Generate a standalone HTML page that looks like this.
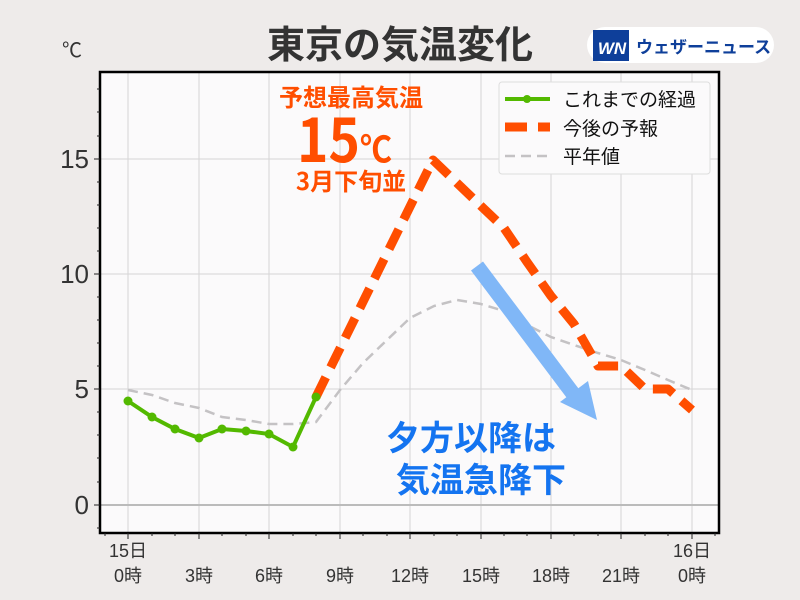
<!DOCTYPE html>
<html><head><meta charset="utf-8"><style>
html,body{margin:0;padding:0;background:#eeebea;}
svg{display:block;font-family:"Liberation Sans","Noto Sans CJK JP",sans-serif;}
</style></head><body>
<svg width="800" height="600" viewBox="0 0 800 600" xmlns="http://www.w3.org/2000/svg">
<rect width="800" height="600" fill="#eeebea"/>
<text x="400" y="58" text-anchor="middle" font-size="38" font-weight="bold" fill="#333" font-family="Noto Sans CJK JP,sans-serif">東京の気温変化</text>
<text x="62" y="57" font-size="20" fill="#333">℃</text>
<rect x="587" y="27" width="187" height="36" rx="18" fill="#fff"/>
<rect x="593" y="30" width="36" height="31" fill="#0e3f9a" transform="skew(-6)"/>
<text x="612" y="54" text-anchor="middle" font-size="17" font-weight="bold" font-style="italic" fill="#fff">WN</text>
<text x="636" y="53" font-size="17" font-weight="bold" fill="#0e3f9a" font-family="Noto Sans CJK JP,sans-serif">ウェザーニュース</text>
<rect x="100" y="72" width="619" height="461" fill="#fbfafb"/>
<g stroke="#d6d4d6" stroke-width="1">
<line x1="128" y1="72" x2="128" y2="533"/><line x1="199" y1="72" x2="199" y2="533"/><line x1="269" y1="72" x2="269" y2="533"/><line x1="340" y1="72" x2="340" y2="533"/><line x1="410" y1="72" x2="410" y2="533"/><line x1="481" y1="72" x2="481" y2="533"/><line x1="551" y1="72" x2="551" y2="533"/><line x1="621" y1="72" x2="621" y2="533"/><line x1="692" y1="72" x2="692" y2="533"/>
<line x1="100" y1="159" x2="719" y2="159"/><line x1="100" y1="274" x2="719" y2="274"/><line x1="100" y1="389" x2="719" y2="389"/>
</g>
<line x1="100" y1="505" x2="719" y2="505" stroke="#bbb" stroke-width="2"/>
<rect x="100" y="72" width="619" height="461" fill="none" stroke="#000" stroke-width="2.5"/>
<g stroke="#222" stroke-width="1">
<line x1="94" y1="159" x2="100" y2="159"/><line x1="94" y1="274" x2="100" y2="274"/><line x1="94" y1="389" x2="100" y2="389"/><line x1="94" y1="505" x2="100" y2="505"/>
<line x1="97" y1="89" x2="100" y2="89"/><line x1="97" y1="112" x2="100" y2="112"/><line x1="97" y1="136" x2="100" y2="136"/><line x1="97" y1="182" x2="100" y2="182"/><line x1="97" y1="205" x2="100" y2="205"/><line x1="97" y1="228" x2="100" y2="228"/><line x1="97" y1="251" x2="100" y2="251"/><line x1="97" y1="297" x2="100" y2="297"/><line x1="97" y1="320" x2="100" y2="320"/><line x1="97" y1="343" x2="100" y2="343"/><line x1="97" y1="366" x2="100" y2="366"/><line x1="97" y1="412" x2="100" y2="412"/><line x1="97" y1="435" x2="100" y2="435"/><line x1="97" y1="458" x2="100" y2="458"/><line x1="97" y1="482" x2="100" y2="482"/><line x1="97" y1="528" x2="100" y2="528"/>
<line x1="128" y1="533" x2="128" y2="539"/><line x1="199" y1="533" x2="199" y2="539"/><line x1="269" y1="533" x2="269" y2="539"/><line x1="340" y1="533" x2="340" y2="539"/><line x1="410" y1="533" x2="410" y2="539"/><line x1="481" y1="533" x2="481" y2="539"/><line x1="551" y1="533" x2="551" y2="539"/><line x1="621" y1="533" x2="621" y2="539"/><line x1="692" y1="533" x2="692" y2="539"/>
<line x1="105" y1="533" x2="105" y2="536"/><line x1="152" y1="533" x2="152" y2="536"/><line x1="175" y1="533" x2="175" y2="536"/><line x1="222" y1="533" x2="222" y2="536"/><line x1="246" y1="533" x2="246" y2="536"/><line x1="293" y1="533" x2="293" y2="536"/><line x1="316" y1="533" x2="316" y2="536"/><line x1="363" y1="533" x2="363" y2="536"/><line x1="387" y1="533" x2="387" y2="536"/><line x1="434" y1="533" x2="434" y2="536"/><line x1="457" y1="533" x2="457" y2="536"/><line x1="504" y1="533" x2="504" y2="536"/><line x1="527" y1="533" x2="527" y2="536"/><line x1="574" y1="533" x2="574" y2="536"/><line x1="598" y1="533" x2="598" y2="536"/><line x1="645" y1="533" x2="645" y2="536"/><line x1="668" y1="533" x2="668" y2="536"/><line x1="715" y1="533" x2="715" y2="536"/>
</g>
<g font-size="26" fill="#333" text-anchor="end">
<text x="89" y="168">15</text><text x="89" y="283">10</text><text x="89" y="398">5</text><text x="89" y="514">0</text>
</g>
<g font-size="18" fill="#333" text-anchor="middle">
<text x="128" y="557">15日</text><text x="692" y="557">16日</text>
<text x="128" y="582">0時</text><text x="199" y="582">3時</text><text x="269" y="582">6時</text><text x="340" y="582">9時</text><text x="410" y="582">12時</text><text x="481" y="582">15時</text><text x="551" y="582">18時</text><text x="621" y="582">21時</text><text x="692" y="582">0時</text>
</g>
<polyline fill="none" stroke="#c4c2c4" stroke-width="2.5" stroke-dasharray="10,6" points="128,390 152,395 175,403 199,408 222,417 246,420 269,424 293,424 316,422 340,390 363,363 387,340 410,318 434,306 457,300 481,304 504,311 527,325 551,337 574,345 598,353 621,360 645,370 668,380 692,390"/>
<polyline fill="none" stroke="#ff4e00" stroke-width="9" stroke-dasharray="22,11" stroke-linejoin="round" points="316,397 433,160 504,228 527,262 551,296 574,324 598,366 621,366 645,389 668,389 692,410"/>
<polyline fill="none" stroke="#53b900" stroke-width="4" points="128,401 152,417 175,429 199,438 222,429 246,431 269,434 293,447 316,397"/>
<g fill="#53b900">
<circle cx="128" cy="401" r="4.5"/><circle cx="152" cy="417" r="4.5"/><circle cx="175" cy="429" r="4.5"/><circle cx="199" cy="438" r="4.5"/><circle cx="222" cy="429" r="4.5"/><circle cx="246" cy="431" r="4.5"/><circle cx="269" cy="434" r="4.5"/><circle cx="293" cy="447" r="4.5"/><circle cx="316" cy="397" r="4.5"/>
</g>
<line x1="477" y1="266" x2="574" y2="395" stroke="#80b7f7" stroke-width="15"/>
<polygon points="560,402 597,420 588,381" fill="#80b7f7"/>
<g font-family="Noto Sans CJK JP,sans-serif" font-weight="bold" fill="#1474f0" font-size="34">
<text x="386" y="450">夕方以降は</text>
<text x="396" y="492">気温急降下</text>
</g>
<g font-family="Noto Sans CJK JP,sans-serif" font-weight="bold" fill="#ff4e00" text-anchor="middle">
<text x="351" y="106" font-size="24">予想最高気温</text>
<text x="297" y="162" font-size="60" text-anchor="start" textLength="95" lengthAdjust="spacingAndGlyphs">15<tspan font-size="36">℃</tspan></text>
<text x="351" y="190" font-size="24">3月下旬並</text>
</g>
<rect x="499" y="82" width="211" height="92" rx="3" fill="#fbfafb" stroke="#ddd" stroke-width="1"/>
<line x1="505" y1="99" x2="550" y2="99" stroke="#53b900" stroke-width="4"/>
<circle cx="527" cy="99" r="4" fill="#53b900"/>
<line x1="505" y1="127" x2="550" y2="127" stroke="#ff4e00" stroke-width="9" stroke-dasharray="22,11"/>
<line x1="505" y1="156" x2="550" y2="156" stroke="#c4c2c4" stroke-width="2.5" stroke-dasharray="10,6"/>
<g font-family="Noto Sans CJK JP,sans-serif" font-size="19" fill="#111">
<text x="563" y="106">これまでの経過</text>
<text x="563" y="135">今後の予報</text>
<text x="563" y="163">平年値</text>
</g>
</svg>
</body></html>
